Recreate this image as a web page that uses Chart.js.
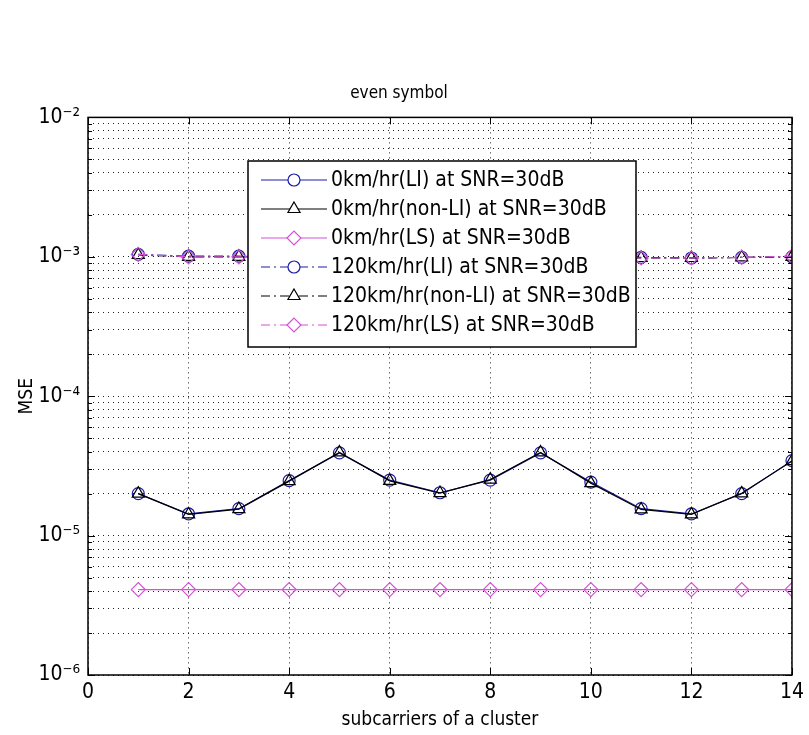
<!DOCTYPE html>
<html>
<head>
<meta charset="utf-8">
<title>even symbol</title>
<script src="https://cdn.jsdelivr.net/npm/chart.js@4.4.1/dist/chart.umd.min.js"></script>
<style>
  html, body { margin: 0; padding: 0; background: #ffffff; }
  #wrap { width: 809px; height: 735px; }
</style>
</head>
<body>
<div id="wrap"><canvas id="mseChart" width="809" height="735"></canvas></div>
<script>
// datos
const subcarriers = [1, 2, 3, 4, 5, 6, 7, 8, 9, 10, 11, 12, 13, 14];

const li0     = [2.0e-5, 1.43e-5, 1.56e-5, 2.48e-5, 3.92e-5, 2.5e-5, 2.03e-5, 2.5e-5, 3.92e-5, 2.42e-5, 1.56e-5, 1.43e-5, 2.0e-5, 3.45e-5];
const nonLi0  = [2.0e-5, 1.42e-5, 1.55e-5, 2.46e-5, 3.95e-5, 2.47e-5, 2.02e-5, 2.52e-5, 3.95e-5, 2.38e-5, 1.54e-5, 1.42e-5, 2.01e-5, 3.42e-5];
const ls0     = [4.1e-6, 4.1e-6, 4.1e-6, 4.1e-6, 4.1e-6, 4.1e-6, 4.1e-6, 4.1e-6, 4.1e-6, 4.1e-6, 4.1e-6, 4.1e-6, 4.1e-6, 4.1e-6];
const li120   = [1.04e-3, 1.01e-3, 1.01e-3, 1.0e-3, 1.0e-3, 1.0e-3, 1.0e-3, 1.0e-3, 1.0e-3, 1.0e-3, 0.99e-3, 0.98e-3, 0.99e-3, 1.0e-3];
const nonLi120 = [1.03e-3, 1.0e-3, 1.0e-3, 1.0e-3, 1.0e-3, 1.0e-3, 1.0e-3, 1.0e-3, 1.0e-3, 1.0e-3, 0.98e-3, 0.98e-3, 0.99e-3, 1.0e-3];
const ls120   = [1.04e-3, 1.0e-3, 1.0e-3, 1.0e-3, 1.0e-3, 1.0e-3, 1.0e-3, 1.0e-3, 1.0e-3, 1.0e-3, 0.98e-3, 0.98e-3, 0.99e-3, 1.01e-3];

const seriesNames = [
  '0km/hr(LI) at SNR=30dB',
  '0km/hr(non-LI) at SNR=30dB',
  '0km/hr(LS) at SNR=30dB',
  '120km/hr(LI) at SNR=30dB',
  '120km/hr(non-LI) at SNR=30dB',
  '120km/hr(LS) at SNR=30dB'
];

const xTicks = [0, 2, 4, 6, 8, 10, 12, 14];
const yTicks = [
  1e-6, 2e-6, 3e-6, 4e-6, 5e-6, 6e-6, 7e-6, 8e-6, 9e-6,
  1e-5, 2e-5, 3e-5, 4e-5, 5e-5, 6e-5, 7e-5, 8e-5, 9e-5,
  1e-4, 2e-4, 3e-4, 4e-4, 5e-4, 6e-4, 7e-4, 8e-4, 9e-4,
  1e-3, 2e-3, 3e-3, 4e-3, 5e-3, 6e-3, 7e-3, 8e-3, 9e-3,
  1e-2
];
const yMajorTicks = [1e-6, 1e-5, 1e-4, 1e-3, 1e-2];
const yTickLabels = ['10\u207B\u2076', '10\u207B\u2075', '10\u207B\u2074', '10\u207B\u00B3', '10\u207B\u00B2'];

const FONT = "'Liberation Sans Narrow', 'DejaVu Sans Condensed', 'Liberation Sans', sans-serif";
const BLUE = '#1c1ca8';
const BLACK = '#000000';
const PINK = '#d452d4';
const DASHDOT = [9, 4, 2, 4];

function pts(values) {
  return subcarriers.map((x, i) => ({ x: x, y: values[i] }));
}

function isMajor(v) {
  const l = Math.log10(v);
  return Math.abs(l - Math.round(l)) < 1e-9;
}

// marco, marcas hacia dentro (estilo MATLAB)
const framePlugin = {
  id: 'framePlugin',
  afterDatasetsDraw(chart) {
    const { ctx, chartArea: a, scales } = chart;
    ctx.save();
    ctx.strokeStyle = '#000';
    ctx.lineWidth = 1;
    ctx.setLineDash([]);
    ctx.beginPath();
    yTicks.forEach(v => {
      const y = Math.round(scales.y.getPixelForValue(v)) + 0.5;
      const len = isMajor(v) ? 7 : 4;
      ctx.moveTo(a.left, y); ctx.lineTo(a.left + len, y);
      ctx.moveTo(a.right, y); ctx.lineTo(a.right - len, y);
    });
    xTicks.forEach(v => {
      const x = Math.round(scales.x.getPixelForValue(v)) + 0.5;
      ctx.moveTo(x, a.bottom); ctx.lineTo(x, a.bottom - 7);
      ctx.moveTo(x, a.top); ctx.lineTo(x, a.top + 7);
    });
    ctx.stroke();
    ctx.lineWidth = 1.5;
    ctx.strokeRect(a.left, a.top, a.right - a.left, a.bottom - a.top);
    ctx.restore();
  }
};

// leyenda con recuadro dentro del area de la grafica
const boxLegend = {
  id: 'boxLegend',
  afterDraw(chart) {
    const ctx = chart.ctx;
    const left = 248, top = 161, right = 636, bottom = 347;
    const rowTop = 180, rowStep = 29;
    ctx.save();
    ctx.fillStyle = '#ffffff';
    ctx.fillRect(left, top, right - left, bottom - top);
    ctx.strokeStyle = '#000';
    ctx.lineWidth = 1.5;
    ctx.setLineDash([]);
    ctx.strokeRect(left, top, right - left, bottom - top);
    ctx.font = '21px ' + FONT;
    ctx.textBaseline = 'middle';
    chart.data.datasets.forEach((ds, i) => {
      const y = rowTop + i * rowStep;
      ctx.strokeStyle = ds.borderColor;
      ctx.lineWidth = 1.2;
      ctx.setLineDash(ds.borderDash || []);
      ctx.beginPath();
      ctx.moveTo(261, y);
      ctx.lineTo(327, y);
      ctx.stroke();
      ctx.setLineDash([]);
      // marcador hueco
      ctx.fillStyle = '#ffffff';
      ctx.strokeStyle = ds.pointBorderColor;
      Chart.helpers.drawPoint(ctx, {
        pointStyle: ds.pointStyle,
        radius: ds.pointRadius,
        borderWidth: 1.2,
        rotation: 0
      }, 294, y);
      ctx.fillStyle = '#000';
      ctx.fillText(ds.label, 331, y + 1);
    });
    ctx.restore();
  }
};

function makeSet(i, values, color, style, radius, dash) {
  return {
    label: seriesNames[i],
    data: pts(values),
    borderColor: color,
    backgroundColor: 'rgba(255,255,255,0)',
    borderWidth: 1.2,
    borderDash: dash,
    pointStyle: style,
    pointRadius: radius,
    pointBorderColor: color,
    pointBackgroundColor: 'rgba(255,255,255,0)',
    pointBorderWidth: 1.2,
    tension: 0,
    fill: false,
    order: 6 - i
  };
}

const ctx = document.getElementById('mseChart').getContext('2d');
const chart = new Chart(ctx, {
  type: 'line',
  data: {
    datasets: [
      makeSet(0, li0, BLUE, 'circle', 6, []),
      makeSet(1, nonLi0, BLACK, 'triangle', 7, []),
      makeSet(2, ls0, PINK, 'rectRot', 7, []),
      makeSet(3, li120, BLUE, 'circle', 6, DASHDOT),
      makeSet(4, nonLi120, BLACK, 'triangle', 7, DASHDOT),
      makeSet(5, ls120, PINK, 'rectRot', 7, DASHDOT)
    ]
  },
  options: {
    responsive: false,
    animation: false,
    layout: { padding: { top: 0, right: 11, bottom: 0, left: 0 } },
    plugins: {
      legend: { display: false },
      tooltip: { enabled: false },
      title: {
        display: true,
        text: 'even symbol',
        color: '#000',
        font: { family: FONT, size: 17, weight: 'normal' },
        padding: { top: 83, bottom: 14 }
      }
    },
    scales: {
      x: {
        type: 'linear',
        min: 0,
        max: 14,
        afterBuildTicks: scale => { scale.ticks = xTicks.map(v => ({ value: v })); },
        afterFit: scale => { scale.height = 60; },
        grid: { color: '#222', lineWidth: 1, drawTicks: false },
        border: { display: false, dash: [1, 4] },
        ticks: {
          color: '#000',
          padding: 5,
          maxRotation: 0,
          font: { family: FONT, size: 21 }
        },
        title: {
          display: true,
          text: 'subcarriers of a cluster',
          color: '#000',
          font: { family: FONT, size: 19 },
          padding: { top: 0, bottom: 4 }
        }
      },
      y: {
        type: 'logarithmic',
        min: 1e-6,
        max: 1e-2,
        afterBuildTicks: scale => { scale.ticks = yTicks.map(v => ({ value: v })); },
        afterFit: scale => { scale.width = 88; },
        grid: { color: '#222', lineWidth: 1, drawTicks: false },
        border: { display: false, dash: [1, 4] },
        ticks: {
          color: '#000',
          padding: 8,
          autoSkip: false,
          font: { family: FONT, size: 21 },
          callback: function(value) {
            const k = yMajorTicks.findIndex(m => Math.abs(Math.log10(m) - Math.log10(value)) < 1e-9);
            return k >= 0 ? yTickLabels[k] : '';
          }
        },
        title: {
          display: true,
          text: 'MSE',
          color: '#000',
          font: { family: FONT, size: 19 },
          padding: { top: 16, bottom: 0 }
        }
      }
    }
  },
  plugins: [framePlugin, boxLegend]
});
</script>
</body>
</html>
